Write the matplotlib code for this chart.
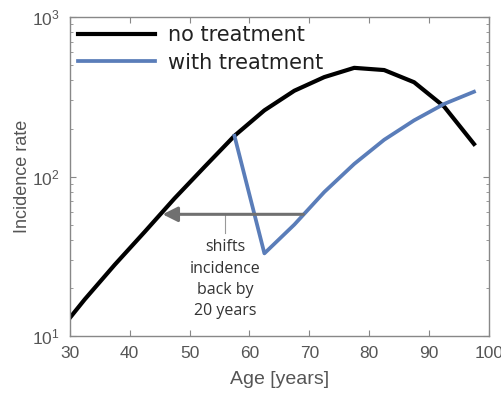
import matplotlib.pyplot as plt

# incidence per age bin (midpoints of 5-year bins, first point at 30)
ages = [30, 32.5, 37.5, 42.5, 47.5, 52.5, 57.5, 62.5, 67.5, 72.5, 77.5, 82.5, 87.5, 92.5, 97.5]
no_treatment = [13, 17, 28, 45, 73, 115, 180, 260, 345, 420, 480, 465, 390, 275, 160]

treated_ages = [57.5, 62.5, 67.5, 72.5, 77.5, 82.5, 87.5, 92.5, 97.5]
with_treatment = [180, 33, 50, 80, 120, 170, 225, 285, 340]

arrow_from = 69
arrow_to = 45.5
arrow_level = 58
note_age = 56
note_text = "shifts\nincidence\nback by\n20 years"

GRAY = "#555555"
BLUE = "#5a7db9"

plt.rcParams["font.family"] = ["Liberation Sans", "DejaVu Sans"]

fig = plt.figure(figsize=(5.02, 3.95), dpi=100)
ax = fig.add_axes([0.139, 0.149, 0.835, 0.808])

ax.plot(ages, no_treatment, color="black", linewidth=3, label="no treatment")
ax.plot(treated_ages, with_treatment, color=BLUE, linewidth=2.7, label="with treatment")

ax.annotate("", xy=(arrow_to, arrow_level), xytext=(arrow_from, arrow_level),
            arrowprops=dict(arrowstyle="-|>,head_length=0.9,head_width=0.45",
                            color="#707070", lw=2.2, shrinkA=0, shrinkB=0))
ax.plot([note_age, note_age], [arrow_level, 44], color="#999999", linewidth=0.8)
ax.text(note_age, 40.5, note_text, ha="center", va="top", fontsize=11.5,
        color="#333333", family=["Open Sans", "DejaVu Sans"], linespacing=1.45)

ax.set_yscale("log")
ax.set_xlim(30, 100)
ax.set_ylim(10, 1000)
ax.set_xticks(range(30, 101, 10))
ax.set_xlabel("Age [years]", fontsize=14, color=GRAY, labelpad=7)
ax.set_ylabel("Incidence rate", fontsize=13, color=GRAY, labelpad=1)

for side in ax.spines.values():
    side.set_color("#888888")
    side.set_linewidth(1.0)
ax.tick_params(which="both", direction="in", top=True, right=True,
               colors="#888888", labelcolor=GRAY, labelsize=12.5)
ax.tick_params(which="major", length=4, pad=7)
ax.tick_params(which="minor", length=2.5)

leg = ax.legend(loc="upper left", frameon=False, handlelength=3.7,
                borderaxespad=0.0, handletextpad=0.6, labelspacing=0.35,
                prop={"family": "DejaVu Sans", "size": 15})
for t in leg.get_texts():
    t.set_color("#222222")

fig.savefig("out.png", dpi=100)
